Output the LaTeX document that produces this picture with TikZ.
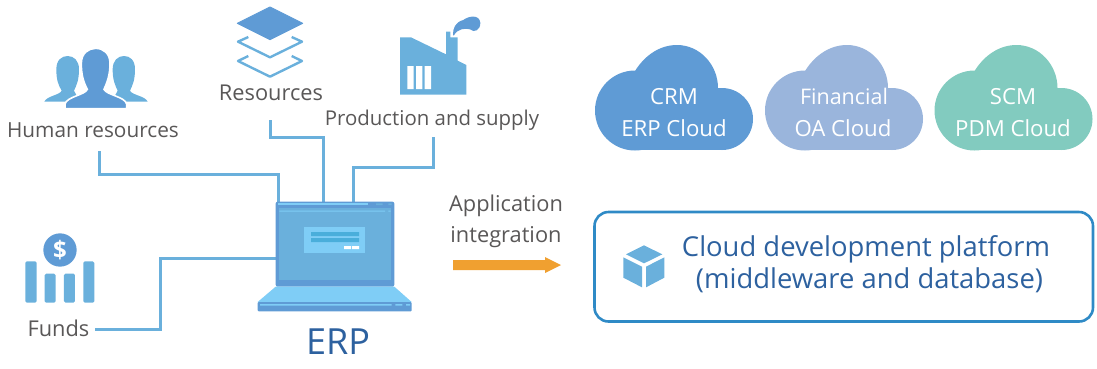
\documentclass[tikz,border=0pt]{standalone}
\usepackage{fontspec}
\setmainfont{Open Sans}
\definecolor{lblue}{HTML}{6AB0DC}
\definecolor{mblue}{HTML}{5F9BD5}
\definecolor{sky}{HTML}{7FCDF6}
\definecolor{barblue}{HTML}{4AAEDB}
\definecolor{ptext}{HTML}{595757}
\definecolor{dtext}{HTML}{2D619F}
\definecolor{cloudb}{HTML}{9AB5DC}
\definecolor{cloudc}{HTML}{82CBBF}
\definecolor{framec}{HTML}{2F8AC6}
\definecolor{arrowc}{HTML}{F0A030}
\tikzset{
  x=1pt,y=-1pt,
  lab/.style={anchor=base,inner sep=0pt,text=ptext,font=\fontsize{20.4}{25}\selectfont},
  labbig/.style={anchor=base,inner sep=0pt,text=ptext,font=\fontsize{21.8}{25}\selectfont},
  cloudlab/.style={anchor=base,inner sep=0pt,text=white,font=\fontsize{22.2}{25}\selectfont},
  boxlab/.style={anchor=base,inner sep=0pt,text=dtext,font=\fontsize{27.4}{30}\selectfont},
  conn/.style={draw=lblue,line width=3pt,line join=miter},
  icon/.style={scale=1/3},
}
\newcommand{\cloudshape}[2]{%
  \begin{scope}[shift={(#1,0)}]
    \fill[#2] (635,110.5) circle[radius=40];
    \fill[#2] (722,119) circle[radius=31];
    \fill[#2] (635,88) rectangle (722,150);
    \fill[#2] (635,71) .. controls (645,55) and (660,45) .. (677,45)
      .. controls (700,45) and (718,65) .. (718,88) -- (635,100) -- cycle;
  \end{scope}}
\begin{document}
\begin{tikzpicture}
\useasboundingbox (0,0) rectangle (1097,368);
% end points of the connectors
\coordinate (hrA) at (99,151); \coordinate (hrB) at (278.5,174.5); \coordinate (lapA) at (278.5,204);
\coordinate (reA) at (270,120); \coordinate (reB) at (323,137); \coordinate (lapB) at (323,204);
\coordinate (prA) at (433,137); \coordinate (prB) at (353,167); \coordinate (lapC) at (353,204);
\coordinate (fuA) at (95,329); \coordinate (fuB) at (160,258); \coordinate (lapD) at (277,258);
\draw[conn] (hrA) |- (hrB) -- (lapA);
\draw[conn] (reA) |- (reB) -- (lapB);
\draw[conn] (prA) |- (prB) -- (lapC);
\draw[conn] (fuA) -| (fuB) -- (lapD);
% people
\begin{scope}[icon]
  \fill[lblue] (133,305) .. controls (140,288) and (180,285) .. (185,272)
    .. controls (175,255) and (169,240) .. (169,208)
    .. controls (169,180) and (185,168) .. (203,168)
    .. controls (222,168) and (237,182) .. (237,208)
    .. controls (237,240) and (230,255) .. (222,272) -- (240,305) -- cycle;
  \fill[lblue] (443,305) .. controls (436,288) and (395,285) .. (390,272)
    .. controls (398,255) and (405,240) .. (405,208)
    .. controls (405,180) and (390,168) .. (372,168)
    .. controls (353,168) and (338,182) .. (338,208)
    .. controls (338,240) and (345,255) .. (353,272) -- (335,305) -- cycle;
  \fill[mblue,draw=white,line width=1.6pt] (195,326) -- (195,312)
    .. controls (200,290) and (255,285) .. (262,268)
    .. controls (250,245) and (244,225) .. (244,190)
    .. controls (244,160) and (265,145) .. (287,145)
    .. controls (310,145) and (330,160) .. (330,190)
    .. controls (330,225) and (322,245) .. (312,268)
    .. controls (320,285) and (375,290) .. (380,312)
    -- (380,326) -- cycle;
\end{scope}
% layers
\begin{scope}[icon]
  \fill[mblue,draw=mblue,line width=1pt,line join=round] (810,21) -- (908,70) -- (810,119) -- (712,70) -- cycle;
  \draw[lblue,line width=2.4pt,line join=round] (745,111) -- (714,125) -- (810,172) -- (906,125) -- (875,111);
  \draw[lblue,line width=2.4pt,line join=round] (745,168) -- (714,183) -- (810,230) -- (906,183) -- (875,168);
\end{scope}
% factory
\begin{scope}[shift={(300,0)},icon]
  \fill[lblue] (300,112) -- (333,112) -- (438,163) -- (438,95) -- (451,95) -- (451,112) -- (473,112) -- (473,182) -- (499,195) -- (499,284) -- (300,284) -- cycle;
  \fill[white] (322,198) rectangle (341,267) (348,198) rectangle (367,267) (374,198) rectangle (393,267);
  \fill[mblue] (459,106) .. controls (458,85) and (466,66) .. (490,60)
    .. controls (505,48) and (538,42) .. (541,68)
    .. controls (542,90) and (522,100) .. (510,88)
    .. controls (495,84) and (472,86) .. (462,106) -- cycle;
\end{scope}
% funds
\begin{scope}[shift={(0,220)},icon]
  \fill[lblue,rounded corners=1.5pt] (76,124) rectangle (110,248);
  \fill[lblue,rounded corners=1.5pt] (134,161) rectangle (167,248);
  \fill[lblue,rounded corners=1.5pt] (192,161) rectangle (225,248);
  \fill[lblue,rounded corners=1.5pt] (250,124) rectangle (283,248);
  \fill[mblue] (180,90) circle[radius=50];
\end{scope}
\node[inner sep=0pt,text=white,font=\fontsize{24}{25}\selectfont\bfseries] (dollar) at (60,250) {\$};
% laptop
\begin{scope}[shift={(240,190)},icon]
  \fill[mblue,rounded corners=2pt] (107,290) -- (107,35) -- (463,35) -- (463,290) -- cycle;
  \fill[lblue] (117,55) rectangle (453,270);
  \fill[sky] (113,40) rectangle (385,45);
  \fill[lblue] (408,40) rectangle (428,45) (445,40) rectangle (455,45);
  \fill[sky] (118,62) rectangle (435,65) (445,62) rectangle (452,65);
  \fill[sky] (192,112) rectangle (375,190);
  \fill[barblue] (213,126) rectangle (357,138) (213,144) rectangle (357,156);
  \fill[white] (312,168) rectangle (333,177) (336,168) rectangle (357,177);
  \fill[sky] (107,290) -- (463,290) -- (515,336) -- (53,336) -- cycle;
  \fill[mblue,rounded corners=1pt] (53,336) rectangle (515,364);
  \fill[sky] (60,342) rectangle (455,347) (466,342) rectangle (487,347) (498,342) rectangle (510,347);
\end{scope}
% labels
\node[lab,font=\fontsize{20.8}{25}\selectfont] (hr) at (93,137) {Human resources};
\node[labbig] (res) at (271,100) {Resources};
\node[lab] (prod) at (432,125) {Production and supply};
\node[labbig] (funds) at (58.5,336) {Funds};
\node[anchor=base,inner sep=0pt,text=dtext,font=\fontsize{36}{40}\selectfont] (erp) at (338,354) {ERP};
\node[labbig] (app) at (506,211) {Application};
\node[labbig] (integ) at (506,242) {integration};
% orange arrow
\fill[arrowc] (453,260) -- (545,260) -- (545,257) -- (561,265) -- (545,273) -- (545,270) -- (453,270) -- cycle;
% clouds
\cloudshape{0}{mblue}
\cloudshape{170}{cloudb}
\cloudshape{339.5}{cloudc}
\node[cloudlab] (c1a) at (674,104) {CRM};
\node[cloudlab] (c1b) at (674,136) {ERP Cloud};
\node[cloudlab,font=\fontsize{21.5}{25}\selectfont] (c2a) at (844,104) {Financial};
\node[cloudlab] (c2b) at (843,136) {OA Cloud};
\node[cloudlab] (c3a) at (1013,104) {SCM};
\node[cloudlab] (c3b) at (1013,136) {PDM Cloud};
% platform
\draw[framec,line width=2.6pt,rounded corners=14pt] (594.5,212) rectangle (1093,321.5);
\begin{scope}[shift={(580,200)},icon]
  \fill[lblue] (192,136) -- (247,163) -- (192,190) -- (138,163) -- cycle;
  \fill[lblue] (130,172) -- (186,200) -- (186,262) -- (130,233) -- cycle;
  \fill[lblue] (198,200) -- (253,172) -- (253,233) -- (198,262) -- cycle;
\end{scope}
\node[boxlab] (pl1) at (866,256) {Cloud development platform};
\node[boxlab] (pl2) at (869.5,288) {(middleware and database)};
\end{tikzpicture}
\end{document}
